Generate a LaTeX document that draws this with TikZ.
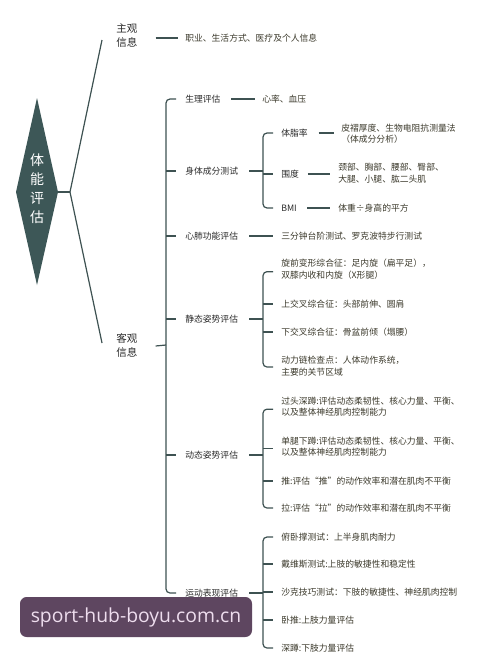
\documentclass[tikz,border=0pt]{standalone}
\usepackage{fontspec}
\setmainfont{Noto Sans CJK SC}
\newfontfamily\wmfont{Open Sans}
\newcommand{\fwq}[1]{{\addfontfeature{CharacterWidth=Full}#1}}
\definecolor{lc}{HTML}{3E5252}
\definecolor{df}{HTML}{3D5757}
\definecolor{tcA}{HTML}{2B2B2B}
\definecolor{tcB}{HTML}{3C3A2C}
\definecolor{wmc}{HTML}{5E4660}
\definecolor{wmt}{HTML}{EEDDEE}
\begin{document}
\begin{tikzpicture}[x=0.75pt,y=-0.75pt,
  ln/.style={draw=lc, line width=0.9pt},
  rnd/.style={ln, rounded corners=3pt},
  tA/.style={anchor=west, inner sep=0pt, font=\fontsize{7.9}{10.5}\selectfont, text=tcA, align=left},
  tB/.style={anchor=west, inner sep=0pt, font=\fontsize{6.6}{8.6}\selectfont, text=tcA, align=left},
  tC/.style={anchor=west, inner sep=0pt, font=\fontsize{6.6}{8.6}\selectfont, text=tcB, align=left}]
\fill[white] (0,0) rectangle (500,657);
\useasboundingbox (0,0) rectangle (500,657);
% central diamond
\fill[df] (37,98) -- (58,192) -- (37,285) -- (16,192) -- cycle;
\node (d) [inner sep=0pt, font=\fontsize{10.5}{14.25}\selectfont, text=white, align=center] at (37,189) {体\\能\\评\\估};
\coordinate (dr) at (58,192);
\coordinate (j) at (70,192);
% level 1
\node (zg) [tA] at (116,36) {主观\\信息};
\node (zgc) [tC] at (185,38) {职业、生活方式、医疗及个人信息};
\node (kg) [tA] at (116,345) {客观\\信息};
% level 2
\node (a1) [tB] at (185,99) {生理评估};
\node (a1c) [tC] at (262,99) {心率、血压};
\node (a2) [tB] at (185,171) {身体成分测试};
\node (b1) [tB] at (281,133) {体脂率};
\node (b1c) [tC] at (341,133.5) {皮褶厚度、生物电阻抗测量法\\（体成分分析）};
\node (b2) [tB] at (281,174) {围度};
\node (b2c) [tC] at (338,173) {颈部、胸部、腰部、臀部、\\大腿、小腿、肱二头肌};
\node (b3) [tB] at (281,208) {BMI};
\node (b3c) [tC] at (338,208) {体重÷身高的平方};
\node (a3) [tB] at (185,236) {心肺功能评估};
\node (a3c) [tC] at (281,236) {三分钟台阶测试、罗克波特步行测试};
\node (a4) [tB] at (185,319) {静态姿势评估};
\node (c1) [tC] at (281,269) {旋前变形综合征：足内旋（扁平足），\\双膝内收和内旋（X形腿）};
\node (c2) [tC] at (281,304) {上交叉综合征：头部前伸、圆肩};
\node (c3) [tC] at (281,332) {下交叉综合征：骨盆前倾（塌腰）};
\node (c4) [tC] at (281,366) {动力链检查点：人体动作系统，\\主要的关节区域};
\node (a5) [tB] at (185,455) {动态姿势评估};
\node (d1) [tC] at (281,406.5) {过头深蹲:评估动态柔韧性、核心力量、平衡、\\以及整体神经肌肉控制能力};
\node (d2) [tC] at (281,446.5) {单腿下蹲:评估动态柔韧性、核心力量、平衡、\\以及整体神经肌肉控制能力};
\node (d3) [tC] at (281,481) {推:评估\fwq{“}推\fwq{”}的动作效率和潜在肌肉不平衡};
\node (d4) [tC] at (281,508) {拉:评估\fwq{“}拉\fwq{”}的动作效率和潜在肌肉不平衡};
\node (a6) [tB] at (185,593) {运动表现评估};
\node (e1) [tC] at (281,537) {俯卧撑测试：上半身肌肉耐力};
\node (e2) [tC] at (281,564) {戴维斯测试:上肢的敏捷性和稳定性};
\node (e3) [tC] at (281,592) {沙克技巧测试：下肢的敏捷性、神经肌肉控制};
\node (e4) [tC] at (281,620) {卧推:上肢力量评估};
\node (e5) [tC] at (281,648) {深蹲:下肢力量评估};
% trunk coordinates
\path ([xshift=-14.25pt]a1.west) coordinate (tk);
\path ([xshift=-13.5pt]b1.west) coordinate (sb);
\path ([xshift=-13.5pt]c1.west) coordinate (sc);
\path ([xshift=-13.5pt]d1.west) coordinate (sd);
\path ([xshift=-13.5pt]e1.west) coordinate (se);
\path ([xshift=-5pt]a1c.west) coordinate (xa1);
\path ([xshift=-6pt]a3c.west) coordinate (xa3);
\path ([xshift=-5pt]b1c.west) coordinate (xb1);
\path ([xshift=-6pt]b2c.west) coordinate (xb2);
\path ([xshift=-6pt]b3c.west) coordinate (xb3);
\path ([xshift=-5pt]zgc.west) coordinate (xz);
% left fork
\draw[ln] (dr) -- (j);
\draw[ln] (j) -- ([xshift=-10.5pt,yshift=-3pt]zg.west);
\draw[ln] (j) -- ([xshift=-10.5pt,yshift=1.5pt]kg.west);
\draw[ln] ([xshift=13.5pt,yshift=-1.5pt]zg.east) -- (xz |- zgc.west);
\draw[ln] ([xshift=13.5pt,yshift=-0.75pt]kg.east) -- (tk |- kg.east);
% main trunk
\draw[rnd] ([xshift=-6.75pt]a1.west) -| ([xshift=-14.25pt]a6.west) -- ([xshift=-6.75pt]a6.west);
\foreach \n in {a2,a3,a4,a5} \draw[ln] (tk |- \n.west) -- ([xshift=-6.75pt]\n.west);
\draw[ln] ([xshift=8pt]a1.east) -- (xa1 |- a1.east);
\draw[ln] ([xshift=8pt]a3.east) -- (xa3 |- a3.east);
% body composition
\draw[ln] ([xshift=8pt]a2.east) -- (sb |- a2.east);
\draw[rnd] ([xshift=-6pt]b1.west) -| ([xshift=-13.5pt]b3.west) -- ([xshift=-6pt]b3.west);
\draw[ln] (sb |- b2.west) -- ([xshift=-6pt]b2.west);
\draw[ln] ([xshift=8pt]b1.east) -- (xb1 |- b1.east);
\draw[ln] ([xshift=6.5pt]b2.east) -- (xb2 |- b2.east);
\draw[ln] ([xshift=7.5pt]b3.east) -- (xb3 |- b3.east);
% static posture
\draw[ln] ([xshift=8pt]a4.east) -- (sc |- a4.east);
\draw[rnd] ([xshift=-6pt,yshift=-2pt]c1.west) -| ([xshift=-13.5pt,yshift=-0.75pt]c4.west) -- ([xshift=-6pt,yshift=-0.75pt]c4.west);
\foreach \n in {c2,c3} \draw[ln] (sc |- \n.west) -- ([xshift=-6pt]\n.west);
% dynamic posture
\draw[ln] ([xshift=8pt]a5.east) -- (sd |- a5.east);
\draw[rnd] ([xshift=-6pt,yshift=-2pt]d1.west) -| ([xshift=-13.5pt]d4.west) -- ([xshift=-6pt]d4.west);
\draw[ln] ([yshift=-1.2pt]sd |- d2.west) -- ([xshift=-6pt,yshift=-1.2pt]d2.west);
\draw[ln] (sd |- d3.west) -- ([xshift=-6pt]d3.west);
% performance
\draw[ln] ([xshift=8pt]a6.east) -- (se |- a6.east);
\draw[rnd] ([xshift=-6pt]e1.west) -| ([xshift=-13.5pt]e5.west) -- ([xshift=-6pt]e5.west);
\foreach \n in {e2,e3,e4} \draw[ln] (se |- \n.west) -- ([xshift=-6pt]\n.west);
% watermark
\node (wm) [fill=wmc, rounded corners=5pt, minimum width=174pt, minimum height=30pt, inner sep=0pt, text=wmt, font=\wmfont\fontsize{14.5}{16}\selectfont] at (136,617) {sport-hub-boyu.com.cn};
\end{tikzpicture}
\end{document}
